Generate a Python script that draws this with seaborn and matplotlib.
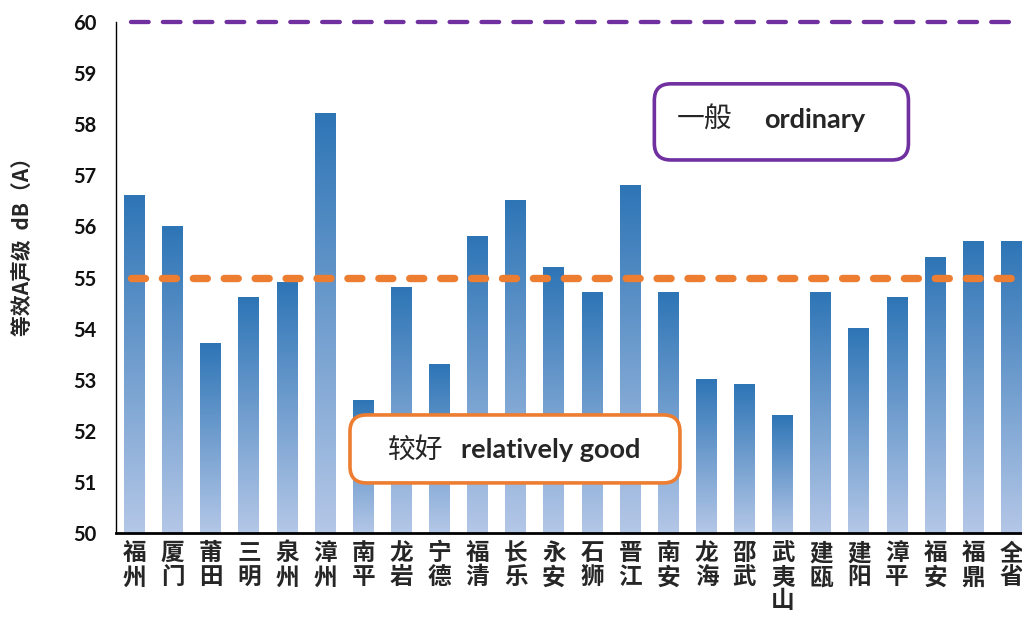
import numpy as np
import matplotlib
matplotlib.use('Agg')
import matplotlib.pyplot as plt
import seaborn as sns
from matplotlib.colors import LinearSegmentedColormap
from matplotlib.patches import FancyBboxPatch

# Data
cities = ['福州', '厦门', '莆田', '三明', '泉州', '漳州', '南平', '龙岩', '宁德', '福清',
          '长乐', '永安', '石狮', '晋江', '南安', '龙海', '邵武', '武夷山', '建瓯', '建阳',
          '漳平', '福安', '福鼎', '全省']
values = [56.6, 56.0, 53.7, 54.6, 54.9, 58.2, 52.6, 54.8, 53.3, 55.8,
          56.5, 55.2, 54.7, 56.8, 54.7, 53.0, 52.9, 52.3, 54.7, 54.0,
          54.6, 55.4, 55.7, 55.7]
ordinary_level = 60
good_level = 55
y_ticks = [50, 51, 52, 53, 54, 55, 56, 57, 58, 59, 60]

sns.set_theme(style='white')
plt.rcParams['font.family'] = ['Lato', 'Noto Sans CJK SC', 'DejaVu Sans']

fig = plt.figure(figsize=(10.22, 6.17), dpi=100)
ax = fig.add_axes([116 / 1022, 1 - 533 / 617, 914 / 1022, 511 / 617])

sns.barplot(x=cities, y=values, ax=ax, width=0.55, color='#2E75B6')

# vertical gradient on each bar (dark top -> light bottom)
cmap = LinearSegmentedColormap.from_list('bluegrad', ['#B4C7E7', '#2E75B6'])
grad = np.linspace(0, 1, 256).reshape(-1, 1)
for bar in ax.patches:
    x0 = bar.get_x()
    w = bar.get_width()
    top = bar.get_height()
    bar.set_facecolor('none')
    bar.set_edgecolor('none')
    ax.imshow(grad, cmap=cmap, origin='lower', aspect='auto',
              extent=[x0, x0 + w, 50, top], zorder=2)
ax.set_xlim(-0.485, len(cities) - 0.515)
ax.set_ylim(50, 60)

# threshold lines
ax.axhline(ordinary_level, xmin=0.016, color='#7030A0', lw=3.1,
           dashes=(4.1, 3.3), dash_capstyle='round', zorder=3, clip_on=False)
ax.axhline(good_level, xmin=0.016, color='#ED7D31', lw=5.3,
           dashes=(1.9, 2.3), dash_capstyle='round', zorder=3)

# axes styling
ax.set_yticks(y_ticks)
ax.set_yticklabels([str(t) for t in y_ticks], fontsize=14.5, fontweight='bold')
ax.tick_params(axis='y', length=0, pad=14, labelcolor='#111111')
ax.set_xticks(range(len(cities)))
ax.set_xticklabels(['\n'.join(c) for c in cities], fontsize=17, fontweight='bold',
                   linespacing=1.0, family=['Noto Sans CJK SC'])
ax.tick_params(axis='x', length=0, pad=6)
for s in ['top', 'right']:
    ax.spines[s].set_visible(False)
ax.spines['left'].set_color('black')
ax.spines['left'].set_linewidth(1.0)
ax.spines['bottom'].set_color('black')
ax.spines['bottom'].set_linewidth(2.0)
ax.set_ylabel('等效A声级  dB（A）', fontsize=15, fontweight='bold',
              family=['Noto Sans CJK SC'])
ax.yaxis.set_label_coords(-0.09, 0.57)

aspect = 914 / 511
# "ordinary" box
box1 = FancyBboxPatch((0.589, 0.73), 0.278, 0.149, transform=ax.transAxes,
                      boxstyle='round,pad=0,rounding_size=0.018', mutation_aspect=aspect,
                      facecolor='white', edgecolor='#7030A0', lw=2.6, zorder=5)
ax.add_patch(box1)
ax.text(0.614, 0.808, '一般', transform=ax.transAxes, fontsize=20, va='center',
        ha='left', family=['Noto Sans CJK SC'], zorder=6)
ax.text(0.709, 0.808, 'ordinary', transform=ax.transAxes, fontsize=19.5, va='center',
        ha='left', fontweight='bold', zorder=6)

# "relatively good" box
box2 = FancyBboxPatch((0.256, 0.098), 0.361, 0.133, transform=ax.transAxes,
                      boxstyle='round,pad=0,rounding_size=0.018', mutation_aspect=aspect,
                      facecolor='white', edgecolor='#ED7D31', lw=2.6, zorder=5)
ax.add_patch(box2)
ax.text(0.297, 0.162, '较好', transform=ax.transAxes, fontsize=20, va='center',
        ha='left', family=['Noto Sans CJK SC'], zorder=6)
ax.text(0.378, 0.162, 'relatively good', transform=ax.transAxes, fontsize=19.5, va='center',
        ha='left', fontweight='bold', zorder=6)

fig.savefig('out.png', dpi=100)
